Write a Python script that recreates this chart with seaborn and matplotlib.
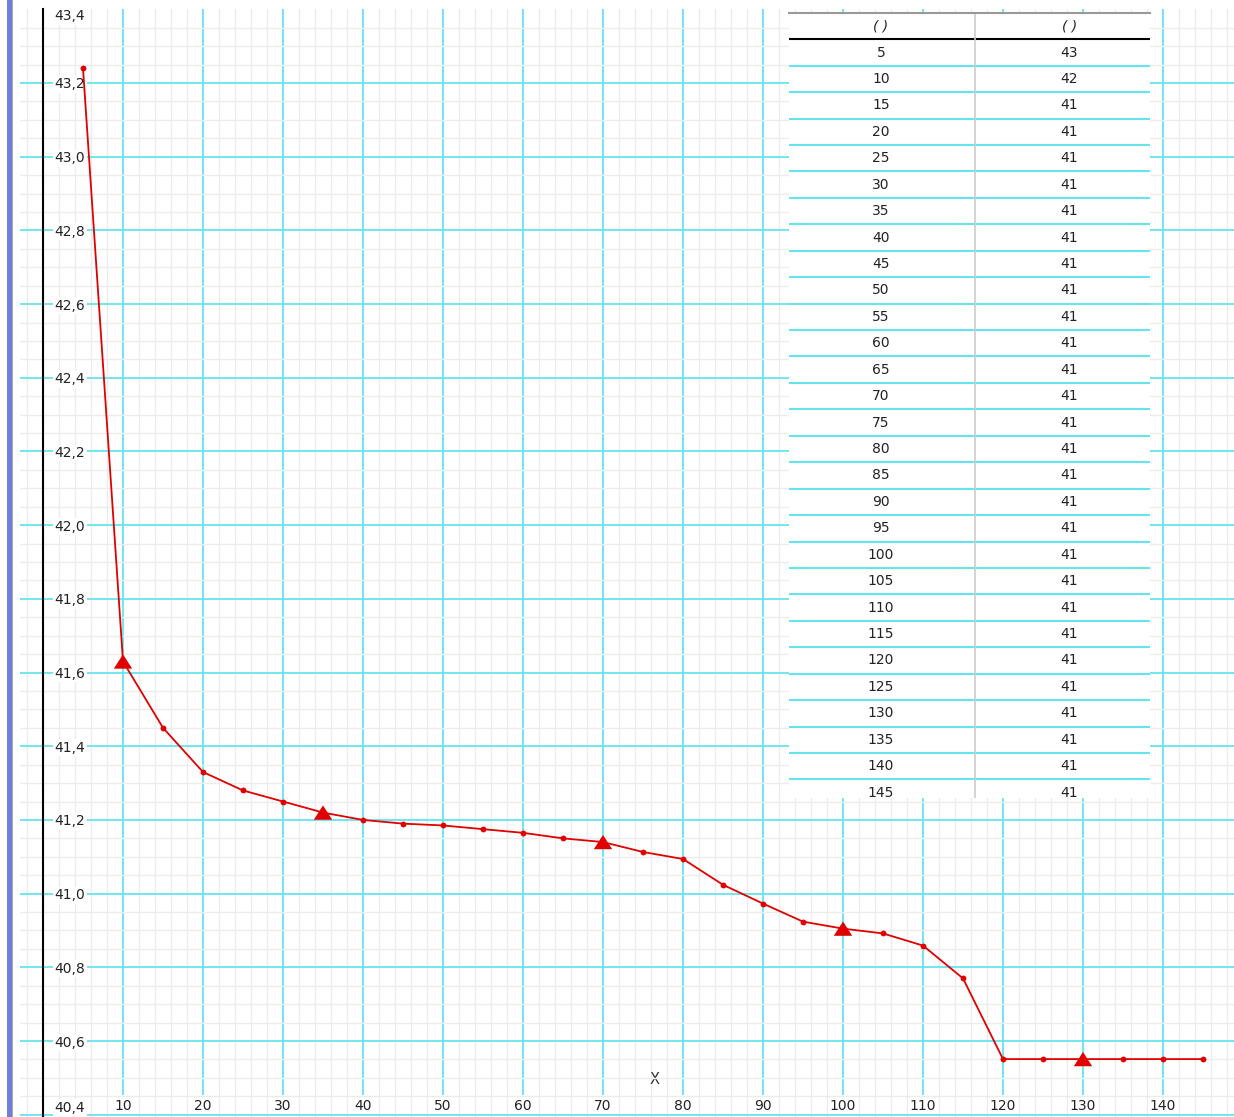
import pandas as pd
import matplotlib
matplotlib.use('Agg')
import matplotlib.pyplot as plt
import seaborn as sns
from matplotlib.ticker import MultipleLocator
from matplotlib.markers import MarkerStyle
from matplotlib.patches import Rectangle

# values
x_vals = [5, 10, 15, 20, 25, 30, 35, 40, 45, 50, 55, 60, 65, 70, 75,
          80, 85, 90, 95, 100, 105, 110, 115, 120, 125, 130, 135, 140, 145]
y_vals = [43.24, 41.63, 41.45, 41.33, 41.28, 41.25, 41.22, 41.20, 41.19, 41.185,
          41.175, 41.165, 41.15, 41.14, 41.113, 41.094, 41.024, 40.973, 40.924, 40.905,
          40.892, 40.859, 40.77, 40.551, 40.551, 40.551, 40.551, 40.551, 40.551]
triangle_x = [10, 35, 70, 100, 130]

# table in the upper right corner
table_header = ['( )', '( )']
table_col1 = ['5', '10', '15', '20', '25', '30', '35', '40', '45', '50', '55', '60',
              '65', '70', '75', '80', '85', '90', '95', '100', '105', '110', '115',
              '120', '125', '130', '135', '140', '145']
table_col2 = ['43', '42', '41', '41', '41', '41', '41', '41', '41', '41', '41', '41',
              '41', '41', '41', '41', '41', '41', '41', '41', '41', '41', '41',
              '41', '41', '41', '41', '41', '41']

x_ticks = [10, 20, 30, 40, 50, 60, 70, 80, 90, 100, 110, 120, 130, 140]
x_tick_labels = ['10', '20', '30', '40', '50', '60', '70', '80', '90', '100',
                 '110', '120', '130', '140']
y_ticks = [40.4, 40.6, 40.8, 41.0, 41.2, 41.4, 41.6, 41.8, 42.0, 42.2, 42.4,
           42.6, 42.8, 43.0, 43.2, 43.4]
y_tick_labels = ['40,4', '40,6', '40,8', '41,0', '41,2', '41,4', '41,6', '41,8',
                 '42,0', '42,2', '42,4', '42,6', '42,8', '43,0', '43,2', '43,4']

df = pd.DataFrame({'x': x_vals, 'y': y_vals})
df_tri = df[df['x'].isin(triangle_x)]

sns.set_style('white')
plt.rcParams['font.family'] = ['DejaVu Sans']

cyan = '#66e4ee'
red = '#e00000'
text_col = '#222222'

W, H = 1234, 1117
fig = plt.figure(figsize=(W / 100, H / 100), dpi=100)
ax = fig.add_axes([20 / W, 0, 1214 / W, (H - 9.3) / H])

# blue strip at the left edge
fig.add_artist(Rectangle((7 / W, 0), 4.5 / W, 1, transform=fig.transFigure,
                         facecolor='#6d7fd6', edgecolor='none'))
fig.add_artist(Rectangle((11.5 / W, 0), 1.5 / W, 1, transform=fig.transFigure,
                         facecolor='#a8a8a8', edgecolor='none'))

sns.lineplot(data=df, x='x', y='y', color=red, lw=1.3, marker='o', markersize=4.2,
             markeredgewidth=0, errorbar=None, ax=ax)
tri = MarkerStyle([(0, 0.78), (-1, -0.78), (1, -0.78), (0, 0.78)])
sns.scatterplot(data=df_tri, x='x', y='y', marker=tri, s=175, color=red,
                edgecolor='none', linewidth=0, ax=ax, zorder=3)

ax.set_xlim(-2.875, 148.875)
ax.set_ylim(40.3938, 43.4)

ax.set_xticks(x_ticks, x_tick_labels)
ax.set_yticks(y_ticks, y_tick_labels)
ax.xaxis.set_minor_locator(MultipleLocator(2))
ax.yaxis.set_minor_locator(MultipleLocator(0.05))
ax.grid(which='major', color=cyan, lw=1.3)
ax.grid(which='minor', color='#ececec', lw=1.0)

for s in ['top', 'right', 'bottom']:
    ax.spines[s].set_visible(False)
ax.spines['left'].set_position(('data', 0))
ax.spines['left'].set_color('black')
ax.spines['left'].set_linewidth(1.5)

ax.tick_params(axis='y', which='major', direction='in', length=7, width=1,
               color='#333333', pad=-8.5, labelsize=10, labelcolor=text_col)
ax.tick_params(axis='y', which='minor', direction='in', length=3.5, width=1,
               color='#555555')
ax.tick_params(axis='x', which='major', direction='in', length=0, pad=-3,
               labelsize=10, labelcolor=text_col)
ax.tick_params(axis='x', which='minor', direction='in', length=3, color='#cfcfcf')

ylabels = ax.get_yticklabels()
for lab in ylabels:
    lab.set_horizontalalignment('left')
    lab.set_bbox(dict(facecolor='white', edgecolor='none', pad=1))
ylabels[0].set_verticalalignment('bottom')
ylabels[-1].set_verticalalignment('top')

for lab in ax.get_xticklabels():
    lab.set_verticalalignment('bottom')
    lab.set_bbox(dict(facecolor='white', edgecolor='none', pad=3))

ax.set_ylabel('')
ax.set_xlabel('X', fontsize=10.5, color='#333333')
ax.xaxis.set_label_coords((655 - 20) / 1214, 38 / (H - 9.3))
ax.xaxis.label.set_verticalalignment('center')

# table overlay
row_h = 26.43
top_px, bot_px = 12.9, 798.3
tax = fig.add_axes([789 / W, (H - bot_px) / H, 361 / W, (bot_px - top_px) / H])
tax.set_facecolor('white')
tax.set_xlim(0, 1)
tax.set_ylim(-1 + (bot_px - top_px) / row_h, -1)
tax.set_xticks([])
tax.set_yticks([])
for s in ['left', 'right', 'bottom']:
    tax.spines[s].set_visible(False)
tax.spines['top'].set_color('#999999')
tax.spines['top'].set_linewidth(1.5)

col_x = [0.255, 0.776]
for cx, h in zip(col_x, table_header):
    tax.text(cx, -0.5, h, ha='center', va='center', fontsize=10, style='italic',
             color=text_col)
for i, (a, b) in enumerate(zip(table_col1, table_col2)):
    tax.text(col_x[0], i + 0.5, a, ha='center', va='center', fontsize=10,
             color=text_col, clip_on=True)
    tax.text(col_x[1], i + 0.5, b, ha='center', va='center', fontsize=10,
             color=text_col, clip_on=True)
    tax.axhline(i + 1, color=cyan, lw=1.5)
tax.axhline(0, color='black', lw=1.5)
tax.axvline(0.515, color='#cccccc', lw=1.2)

# draw once so tick positions are set, then drop any grid line on the top edge
fig.canvas.draw()
for t in ax.yaxis.get_major_ticks() + ax.yaxis.get_minor_ticks():
    if t.get_loc() > 43.39:
        t.gridline.set_visible(False)

fig.savefig('out.png', dpi=100)
